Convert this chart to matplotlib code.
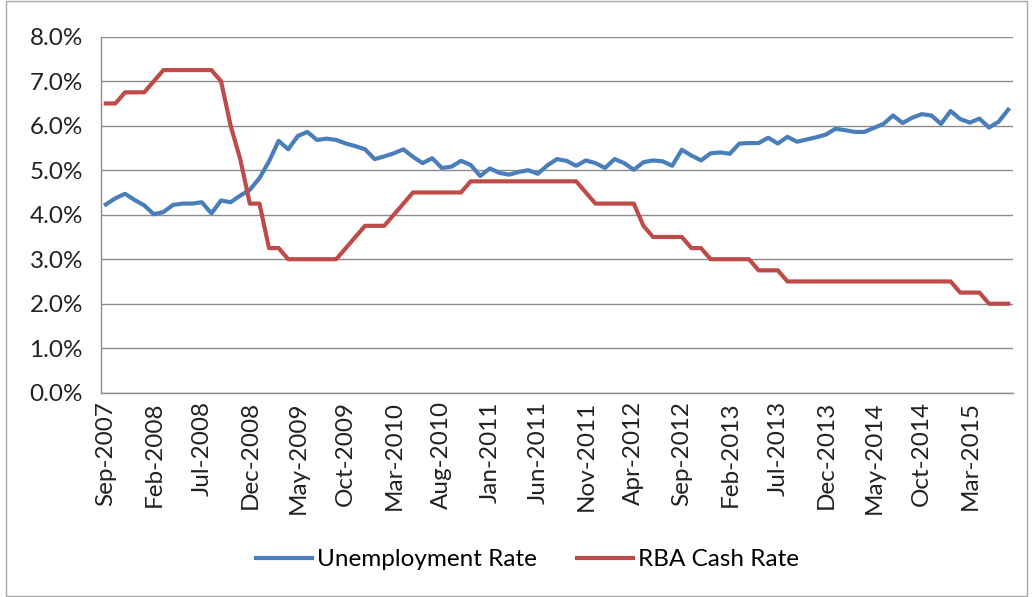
"""
Unemployment rate vs RBA cash rate, monthly line chart
"""
import matplotlib
matplotlib.use("Agg")
import matplotlib.pyplot as plt
from matplotlib.patches import Rectangle
from matplotlib.ticker import FuncFormatter, MultipleLocator


plt.rcParams["font.family"] = ["Lato", "DejaVu Sans"]
plt.rcParams["font.size"] = 17.5

MONTHS = [
    "Sep-2007", "Oct-2007", "Nov-2007", "Dec-2007",
    "Jan-2008", "Feb-2008", "Mar-2008", "Apr-2008", "May-2008", "Jun-2008",
    "Jul-2008", "Aug-2008", "Sep-2008", "Oct-2008", "Nov-2008", "Dec-2008",
    "Jan-2009", "Feb-2009", "Mar-2009", "Apr-2009", "May-2009", "Jun-2009",
    "Jul-2009", "Aug-2009", "Sep-2009", "Oct-2009", "Nov-2009", "Dec-2009",
    "Jan-2010", "Feb-2010", "Mar-2010", "Apr-2010", "May-2010", "Jun-2010",
    "Jul-2010", "Aug-2010", "Sep-2010", "Oct-2010", "Nov-2010", "Dec-2010",
    "Jan-2011", "Feb-2011", "Mar-2011", "Apr-2011", "May-2011", "Jun-2011",
    "Jul-2011", "Aug-2011", "Sep-2011", "Oct-2011", "Nov-2011", "Dec-2011",
    "Jan-2012", "Feb-2012", "Mar-2012", "Apr-2012", "May-2012", "Jun-2012",
    "Jul-2012", "Aug-2012", "Sep-2012", "Oct-2012", "Nov-2012", "Dec-2012",
    "Jan-2013", "Feb-2013", "Mar-2013", "Apr-2013", "May-2013", "Jun-2013",
    "Jul-2013", "Aug-2013", "Sep-2013", "Oct-2013", "Nov-2013", "Dec-2013",
    "Jan-2014", "Feb-2014", "Mar-2014", "Apr-2014", "May-2014", "Jun-2014",
    "Jul-2014", "Aug-2014", "Sep-2014", "Oct-2014", "Nov-2014", "Dec-2014",
    "Jan-2015", "Feb-2015", "Mar-2015", "Apr-2015", "May-2015", "Jun-2015",
    "Jul-2015",
]

# percent
unemployment = [
    4.23, 4.37, 4.47, 4.33, 4.21, 4.01, 4.06, 4.22, 4.25, 4.25,
    4.28, 4.03, 4.32, 4.28, 4.43, 4.56, 4.82, 5.20, 5.66, 5.47,
    5.77, 5.86, 5.68, 5.71, 5.68, 5.60, 5.54, 5.47, 5.25, 5.31,
    5.38, 5.47, 5.30, 5.16, 5.27, 5.05, 5.08, 5.21, 5.12, 4.87,
    5.04, 4.94, 4.90, 4.96, 5.00, 4.92, 5.11, 5.25, 5.21, 5.10,
    5.22, 5.16, 5.05, 5.25, 5.16, 5.01, 5.18, 5.22, 5.20, 5.10,
    5.46, 5.33, 5.22, 5.38, 5.40, 5.37, 5.60, 5.61, 5.61, 5.73,
    5.60, 5.75, 5.64, 5.69, 5.74, 5.80, 5.93, 5.90, 5.86, 5.86,
    5.95, 6.04, 6.23, 6.06, 6.18, 6.26, 6.23, 6.04, 6.33, 6.15,
    6.07, 6.16, 5.96, 6.09, 6.36,
]

cash_rate = [
    6.50, 6.50, 6.75, 6.75, 6.75, 7.00, 7.25, 7.25, 7.25, 7.25,
    7.25, 7.25, 7.00, 6.00, 5.25, 4.25, 4.25, 3.25, 3.25, 3.00,
    3.00, 3.00, 3.00, 3.00, 3.00, 3.25, 3.50, 3.75, 3.75, 3.75,
    4.00, 4.25, 4.50, 4.50, 4.50, 4.50, 4.50, 4.50, 4.75, 4.75,
    4.75, 4.75, 4.75, 4.75, 4.75, 4.75, 4.75, 4.75, 4.75, 4.75,
    4.50, 4.25, 4.25, 4.25, 4.25, 4.25, 3.75, 3.50, 3.50, 3.50,
    3.50, 3.25, 3.25, 3.00, 3.00, 3.00, 3.00, 3.00, 2.75, 2.75,
    2.75, 2.50, 2.50, 2.50, 2.50, 2.50, 2.50, 2.50, 2.50, 2.50,
    2.50, 2.50, 2.50, 2.50, 2.50, 2.50, 2.50, 2.50, 2.50, 2.25,
    2.25, 2.25, 2.00, 2.00, 2.00,
]

LABEL_STEP = 5
BLUE = "#4A7EBB"
RED = "#BE4B48"
GRID = "#8C8C8C"


def draw_chart():
    """
    折れ線グラフを描画する関数
    """
    fig = plt.figure(figsize=(10.32, 5.97), dpi=100)
    ax = fig.add_axes([0.0979, 0.3422, 0.8837, 0.5963])

    x = list(range(len(MONTHS)))
    ax.plot(x, unemployment, color=BLUE, lw=3, label="Unemployment Rate",
            solid_joinstyle="round", zorder=3)
    ax.plot(x, cash_rate, color=RED, lw=3, label="RBA Cash Rate",
            solid_joinstyle="round", zorder=3)

    ax.set_xlim(-0.5, len(MONTHS) - 0.5)
    ax.set_ylim(0, 8)
    ax.yaxis.set_major_locator(MultipleLocator(1))
    ax.yaxis.set_major_formatter(FuncFormatter(lambda v, _: f"{v:.1f}%"))
    ax.grid(axis="y", color=GRID, lw=1)
    ax.set_axisbelow(True)

    ticks = x[::LABEL_STEP]
    ax.set_xticks(ticks)
    ax.set_xticklabels([MONTHS[i] for i in ticks], rotation=90)
    ax.tick_params(axis="x", length=0, pad=6, colors="#222222")
    ax.tick_params(axis="y", length=0, pad=13, colors="#222222")

    for side in ("top", "right"):
        ax.spines[side].set_visible(False)
    for side in ("left", "bottom"):
        ax.spines[side].set_color(GRID)
        ax.spines[side].set_linewidth(1)

    fig.legend(loc="center", bbox_to_anchor=(0.511, 0.062), ncol=2,
               frameon=False, handlelength=2.3, handletextpad=0.2,
               columnspacing=1.65)

    # 外枠
    fig.patches.append(Rectangle((0.006, 0.002), 0.989, 0.996,
                                 transform=fig.transFigure, fill=False,
                                 edgecolor="#A6A6A6", lw=1))

    fig.savefig("out.png", dpi=100)


def main():
    """
    メイン関数
    """
    draw_chart()


if __name__ == "__main__":
    main()
